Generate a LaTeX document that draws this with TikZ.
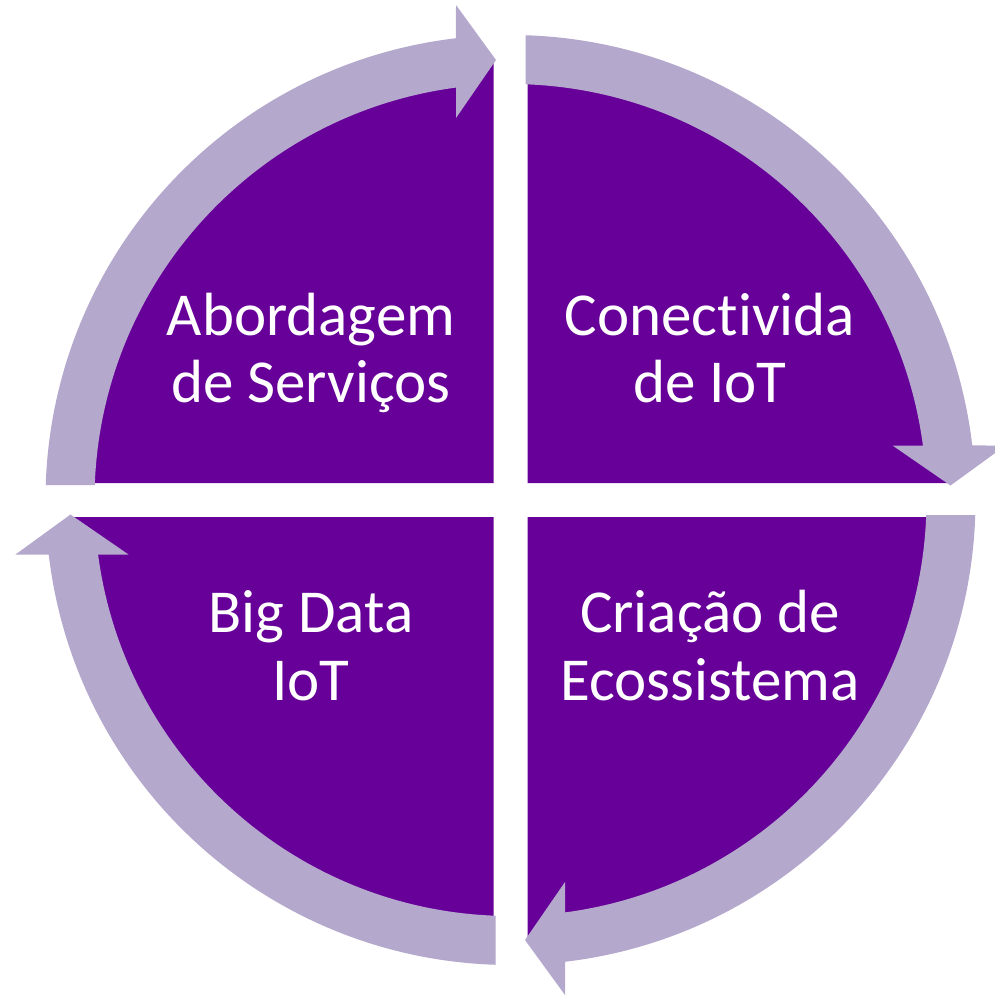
\documentclass[tikz,border=0pt]{standalone}
\usepackage{fontspec}
\setmainfont[Ligatures=NoCommon]{Carlito}
\definecolor{segpurple}{HTML}{660099}
\definecolor{arrowlilac}{HTML}{B5A8CD}
\begin{document}
\begin{tikzpicture}[x=1pt,y=1pt,
  seg/.style={fill=segpurple,draw=none},
  cyclearrow/.style={fill=arrowlilac,draw=none},
  lbl/.style={text=white,font=\fontsize{61}{68}\selectfont,anchor=base,inner sep=0pt}]
\useasboundingbox (-510.5,-494) rectangle (484.5,500);
\clip (-510.5,-494) rectangle (484.5,500);
% quarter segments
\foreach \r in {0,-90,-180,-270}{
  \begin{scope}[rotate=\r]
    \fill[seg] (-17,17) -- (-442,17) arc[start angle=180,end angle=90,radius=425] -- cycle;
  \end{scope}
}
% circular arrows
\foreach \r in {0,-90,-180,-270}{
  \begin{scope}[rotate=\r]
    \fill[cyclearrow] (-415.73,15) -- (-464.76,15)
      arc[start angle=178.15,end angle=96.73,radius=465]
      -- (-54.5,495) -- (-14.5,440) -- (-54.5,382) -- (-54.5,412.41)
      arc[start angle=97.53,end angle=177.93,radius=416] -- cycle;
  \end{scope}
}
% labels
\node[lbl] (tla) at (-199.5,165) {Abordagem};
\node[lbl] (tlb) at (-199.5,97.3) {de Serviços};
\node[lbl] (tra) at (199.5,165) {Conect\kern0pt ivida};
\node[lbl] (trb) at (199.5,97.3) {de IoT};
\node[lbl] (bra) at (199.5,-132.5) {Criação de};
\node[lbl] (brb) at (199.5,-200.5) {Ecossistema};
\node[lbl] (bla) at (-199.5,-132.5) {Big Data};
\node[lbl] (blb) at (-199.5,-200.5) {IoT};
\end{tikzpicture}
\end{document}
